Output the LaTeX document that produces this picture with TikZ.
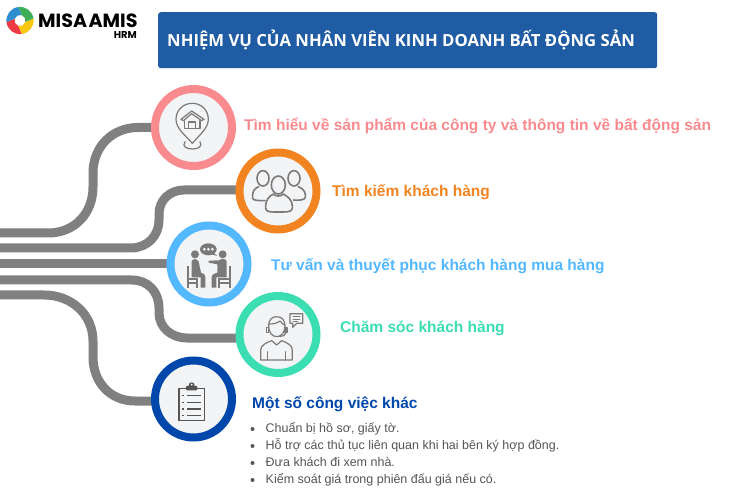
\documentclass[tikz,border=0pt]{standalone}
\usepackage{fontspec}
\setmainfont{Liberation Sans}
\newfontfamily\titlefont{Open Sans}
\newfontfamily\logofont[WordSpace=0.35]{Poppins}
\usetikzlibrary{backgrounds}
\definecolor{cpink}{HTML}{F98B8E}
\definecolor{corange}{HTML}{F18420}
\definecolor{csky}{HTML}{54B8FF}
\definecolor{cteal}{HTML}{3BDDB3}
\definecolor{cnavy}{HTML}{0047AB}
\definecolor{cline}{HTML}{808080}
\definecolor{cinner}{HTML}{F3F4F6}
\definecolor{ctitle}{HTML}{1F5CA3}
\definecolor{cicon}{HTML}{7A7A7A}
\definecolor{cbody}{HTML}{555555}
\definecolor{lgreen}{HTML}{3FAE5A}
\definecolor{lblue}{HTML}{2E8FD0}
\definecolor{lred}{HTML}{EE3B45}
\definecolor{lyellow}{HTML}{F9C80E}
\newcommand{\crescent}[3]{\fill[#1] (#2:13.6) arc[start angle=#2,end angle=#3,radius=13.6] -- ({#3-25}:5.6) arc[start angle={#3-25},end angle={#2-25},radius=5.6] -- cycle;}
\tikzset{
  ring/.style={circle,draw=#1,line width=8pt,fill=cinner,minimum size=77pt,inner sep=0pt},
  link/.style={draw=cline,line width=9pt},
  head/.style={anchor=base west,inner sep=0pt,font=\bfseries\fontsize{15.5}{18}\selectfont,text=#1},
  bodytext/.style={anchor=base west,inner sep=0pt,font=\fontsize{12.5}{14}\selectfont,text=cbody},
  dotmark/.style={circle,fill=cbody,inner sep=0pt,minimum size=4pt},
  ico/.style={draw=cicon,line width=1.2pt,line join=round,line cap=round},
  icofill/.style={fill=cicon,draw=none},
}
\begin{document}
\begin{tikzpicture}[x=1pt,y=-1pt]
\useasboundingbox (0,0) rectangle (740,500);
% logo
\begin{scope}[shift={(20,20.5)},yscale=-1]
  \crescent{lgreen}{8}{98}
  \crescent{lblue}{98}{188}
  \crescent{lred}{188}{278}
  \crescent{lyellow}{278}{368}
\end{scope}
\node[anchor=base west,inner sep=0pt,font=\logofont\fontsize{19.1}{22}\selectfont\bfseries] (logo) at (38,27.3) {MISA AMIS};
\node[anchor=base east,inner sep=0pt,font=\logofont\fontsize{10}{10}\selectfont\bfseries] (hrm) at (137,39) {HRM};
% title
\node[fill=ctitle,rounded corners=2.5pt,anchor=north west,minimum width=499pt,minimum height=56pt,inner sep=0pt] (titlebox) at (158,12) {};
\node[anchor=base west,inner sep=0pt,text=white,font=\titlefont\fontsize{16.7}{18}\selectfont\bfseries] (titletext) at (167,46.5) {NHIỆM VỤ CỦA NHÂN VIÊN KINH DOANH BẤT ĐỘNG SẢN};
% circles
\node[ring=cpink] (c1) at (193.5,127.5) {};
\node[ring=corange] (c2) at (278,191) {};
\node[ring=csky] (c3) at (209,264) {};
\node[ring=cteal] (c4) at (278,334.5) {};
\node[ring=cnavy] (c5) at (193.5,399) {};
% connector start points and joins
\coordinate (s1) at (0,233);
\coordinate (s2) at (0,248);
\coordinate (s3) at (0,264);
\coordinate (s4) at (0,280);
\coordinate (s5) at (0,295);
\coordinate (e2) at (184,190);
\coordinate (e4) at (187,338);
\coordinate (e5) at (135,401);
\begin{scope}[on background layer]
\fill[white] (0,0) rectangle (740,500);
\path[link] (s1) -- (48,233) .. controls (75,233) and (93,213) .. (93,187) -- (93,173) .. controls (93,147) and (112,127.5) .. (138,127.5) -- (c1.center);
\path[link] (s2) -- (131,248) .. controls (147,248) and (159,236) .. (159,220) -- (159,214) .. controls (159,200) and (170,190) .. (e2) -- (c2.center |- e2);
\path[link] (s3) -- (c3.center);
\path[link] (s4) -- (132,280) .. controls (148,280) and (159,292) .. (159,308) -- (159,313) .. controls (159,327) and (171,338) .. (e4) -- (c4.center |- e4);
\path[link] (s5) -- (44,295) .. controls (72,295) and (93,315) .. (93,341) -- (93,357) .. controls (93,382) and (110,401) .. (e5) -- (c5.center |- e5);
\end{scope}
% icon 1 : pin and house
\begin{scope}[scale=1/3]
  \draw[ico] (577,430) .. controls (555,405) and (528,385) .. (528,358) .. controls (528,330) and (550,310) .. (577,310) .. controls (604,310) and (625,330) .. (625,358) .. controls (625,385) and (598,405) .. (577,430) -- cycle;
  \draw[ico] (555,425) .. controls (545,440) and (560,447) .. (577,447) .. controls (594,447) and (609,440) .. (600,425);
  \draw[ico] (543,358) -- (575,333) -- (612,358) -- (605,362) -- (575,341) -- (550,362) -- cycle;
  \draw[ico] (553,362) -- (553,385) -- (600,385) -- (600,362);
  \draw[ico] (565,385) -- (565,366) -- (587,366) -- (587,385);
\end{scope}
% icon 2 : three people
\begin{scope}[shift={(140,80)},scale=1/3]
  \draw[ico,line width=1.6pt] (369,295) ellipse[x radius=18,y radius=23];
  \draw[ico,line width=1.6pt] (462,295) ellipse[x radius=18,y radius=23];
  \draw[ico,line width=1.6pt] (356,320) .. controls (345,325) and (338,332) .. (338,345) -- (338,355) .. controls (338,362) and (360,362) .. (375,362);
  \draw[ico,line width=1.6pt] (475,320) .. controls (486,325) and (496,332) .. (496,345) -- (496,352) .. controls (496,360) and (475,362) .. (460,360);
  \draw[ico,fill=cinner,line width=1.6pt] (415,315) ellipse[x radius=21,y radius=27];
  \draw[ico,line width=1.6pt,fill=cinner] (400,342) .. controls (385,350) and (377,362) .. (377,378) -- (377,385) .. controls (377,398) and (400,396) .. (415,396) .. controls (432,396) and (457,398) .. (457,385) -- (457,378) .. controls (457,362) and (445,350) .. (430,342) .. controls (425,350) and (405,350) .. (400,342) -- cycle;
\end{scope}
% icon 3 : consultation
\begin{scope}[shift={(140,220)},scale=1/3]
  \fill[icofill] (165,103) circle[radius=12];
  \fill[icofill] (248,103) circle[radius=12];
  \fill[icofill] (155,124) .. controls (157,115) and (172,115) .. (176,125) -- (183,158) .. controls (188,160) and (196,162) .. (196,172) -- (196,203) -- (182,203) -- (182,172) -- (155,172) -- cycle;
  \fill[icofill] (260,124) .. controls (258,115) and (243,115) .. (238,121) -- (206,122) -- (206,128) -- (232,133) -- (232,158) .. controls (225,160) and (215,162) .. (215,172) -- (215,203) -- (229,203) -- (229,172) -- (260,172) -- cycle;
  \draw[cicon,line width=1.8pt] (144,137) -- (144,203) (144,177) -- (172,177) -- (172,203) (144,190) -- (172,190);
  \draw[cicon,line width=1.8pt] (270,137) -- (270,203) (270,177) -- (238,177) -- (238,203) (270,190) -- (238,190);
  \fill[icofill] (205,88) ellipse[x radius=25,y radius=18];
  \fill[icofill] (220,98) -- (232,108) -- (214,103) -- cycle;
  \fill[cinner] (193,88) circle[radius=4.5] (205,88) circle[radius=4.5] (217,88) circle[radius=4.5];
\end{scope}
% icon 4 : support agent
\begin{scope}[shift={(140,220)},scale=1/3]
  \draw[ico] (386,318) .. controls (386,300) and (395,290) .. (410,290) .. controls (428,290) and (435,302) .. (435,320) .. controls (435,335) and (425,350) .. (410,350) .. controls (395,350) and (386,335) .. (386,318) -- cycle;
  \draw[ico] (386,312) .. controls (400,312) and (412,310) .. (420,303) .. controls (425,310) and (430,314) .. (435,315);
  \draw[ico] (380,322) rectangle (386,338);
  \draw[ico] (435,322) rectangle (441,338);
  \draw[ico] (438,338) .. controls (438,345) and (430,349) .. (418,349);
  \draw[ico] (362,420) -- (362,390) .. controls (362,375) and (380,368) .. (395,362) -- (410,375) -- (425,362) .. controls (440,368) and (457,375) .. (457,390) -- (457,420) -- cycle;
  \draw[ico] (382,395) -- (382,420) (437,395) -- (437,420);
  \draw[ico] (450,281) -- (488,281) -- (488,310) -- (470,310) -- (458,322) -- (458,310) -- (450,310) -- cycle;
  \draw[ico,line width=.9pt] (459,290) -- (480,290) (459,297) -- (480,297) (459,303) -- (472,303);
\end{scope}
% icon 5 : clipboard
\begin{scope}[shift={(0,220)},scale=1/3]
  \draw[cbody,line width=1.4pt] (537,505) rectangle (613,602);
  \fill[cbody] (575,496) circle[radius=9];
  \fill[cbody,rounded corners=1pt] (558,498) rectangle (592,511);
  \fill[white] (575,494) circle[radius=3];
  \draw[cbody,line width=1.2pt] (547,527) -- (553,527) (562,527) -- (603,527) (547,547) -- (553,547) (562,547) -- (603,547) (547,567) -- (553,567) (562,567) -- (603,567) (547,587) -- (553,587) (562,587) -- (603,587);
\end{scope}
% labels
\node[head=cpink] (t1) at (244,130.5) {Tìm hiểu về sản phẩm của công ty và thông tin về bất động sản};
\node[head=corange] (t2) at (332,196.5) {Tìm kiếm khách hàng};
\node[head=csky] (t3) at (271,270) {Tư vấn và thuyết phục khách hàng mua hàng};
\node[head=cteal] (t4) at (340,332) {Chăm sóc khách hàng};
\node[head=cnavy] (t5) at (252,408) {Một số công việc khác};
\node[bodytext] (b1) at (265.5,432) {Chuẩn bị hồ sơ, giấy tờ.};
\node[bodytext] (b2) at (265.5,449) {Hỗ trợ các thủ tục liên quan khi hai bên ký hợp đồng.};
\node[bodytext] (b3) at (265.5,466) {Đưa khách đi xem nhà.};
\node[bodytext] (b4) at (265.5,483) {Kiểm soát giá trong phiên đấu giá nếu có.};
\node[dotmark] (d1) at (252.5,429) {};
\node[dotmark] (d2) at (252.5,446) {};
\node[dotmark] (d3) at (252.5,463) {};
\node[dotmark] (d4) at (252.5,480) {};
\end{tikzpicture}
\end{document}
